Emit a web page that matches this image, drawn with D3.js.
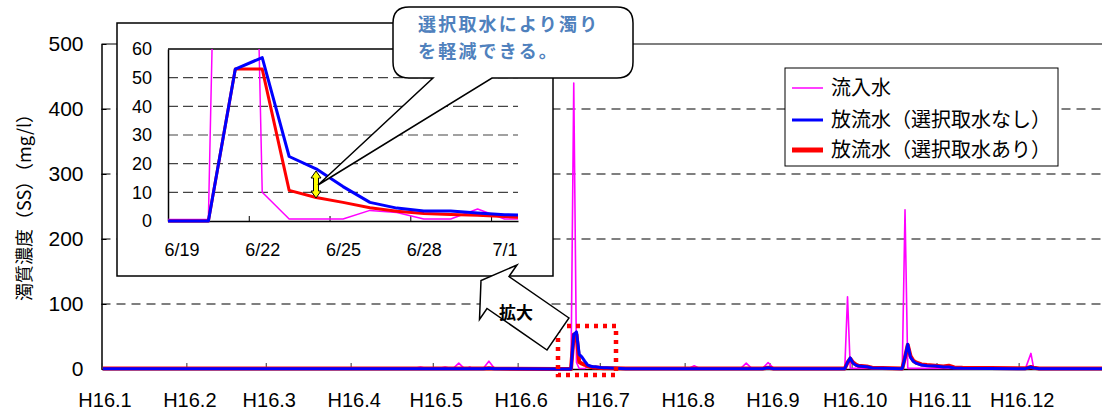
<!DOCTYPE html>
<html><head><meta charset="utf-8">
<script src="https://cdn.jsdelivr.net/npm/d3@7"></script>
<style>body{margin:0;background:#fff;} svg{display:block;}</style>
</head><body>
<svg id="c" width="1102" height="419"></svg>
<script>
// ---------- data ----------
const monthLabels = ["H16.1","H16.2","H16.3","H16.4","H16.5","H16.6","H16.7","H16.8","H16.9","H16.10","H16.11","H16.12"];
const mainYTicks = [0,100,200,300,400,500];
const insetYTicks = [0,10,20,30,40,50,60];
const insetTickLabels = ["6/19","6/22","6/25","6/28","7/1"];
const insetTickDates = ["2004-06-19","2004-06-22","2004-06-25","2004-06-28","2004-07-01"];
const seriesNames = ["流入水","放流水（選択取水なし）","放流水（選択取水あり）"];
const seriesColors = ["#ff00ff","#0000ff","#ff0000"];

const mainDates = [
 "2004-01-01","2004-04-24","2004-04-26","2004-04-28","2004-05-03","2004-05-05","2004-05-07","2004-05-08",
 "2004-05-10","2004-05-12","2004-05-13","2004-05-14","2004-05-15","2004-05-19","2004-05-21","2004-05-23",
 "2004-06-16","2004-06-17","2004-06-18","2004-06-19","2004-06-20","2004-06-21","2004-06-22","2004-06-23",
 "2004-06-24","2004-06-25","2004-06-26","2004-06-27","2004-06-28","2004-06-29","2004-06-30","2004-07-01",
 "2004-07-02","2004-07-03","2004-07-06","2004-07-10","2004-08-02","2004-08-04","2004-08-06","2004-08-21",
 "2004-08-23","2004-08-25","2004-08-29","2004-08-31","2004-09-02","2004-09-28","2004-09-29","2004-09-30",
 "2004-10-01","2004-10-02","2004-10-03","2004-10-06","2004-10-08","2004-10-19","2004-10-20","2004-10-21",
 "2004-10-22","2004-10-23","2004-10-24","2004-10-26","2004-10-28","2004-10-31","2004-11-03","2004-11-05",
 "2004-11-07","2004-11-10","2004-12-03","2004-12-05","2004-12-06","2004-12-08","2004-12-31"];
const inflow = [
 1,1,3,1,1,3,1,1,
 9,1,1,3,1,1,12,1,
 0.5,0.5,0.5,0.5,0.5,440,10,0.7,
 0.7,0.7,3.7,3,0.7,0.7,4.2,0.7,
 0.7,0.7,1,1,1,5,1,1,
 9,1,1,10,1,1,111,1,
 1,1,1,1,1,1,245,1,
 1,1,1,1,1,1,1,1,
 1,1,1,24,1,1,1];
const outflowNoSel = [
 0.5,0.5,0.5,0.5,0.5,0.5,0.5,0.5,
 0.5,0.5,0.5,0.5,0.5,0.5,1,0.5,
 0,0,0,0,0,53,57,22.5,
 18.2,12,6.5,4.5,3.5,3.5,2.8,2.2,
 2.0,1.8,1.2,0.5,0.5,0.5,0.5,0.5,
 0.5,0.5,0.5,2,0.5,0.5,10,17,
 9,6,4.5,3.5,1.5,0.5,18,38,
 18,12,9,6,5,4.5,3,3,
 1.5,1,0.5,3,1.5,0.5,0.5];
const outflowSel = [
 0.7,0.7,0.7,0.7,0.7,0.7,0.7,0.7,
 0.7,0.7,0.7,0.7,0.7,0.7,1,0.7,
 0,0,0,0,0,53,53,10.7,
 8.2,6.5,4.6,3.4,2.6,2.3,2.0,1.6,
 1.0,1.2,1.0,0.7,0.7,0.7,0.7,0.7,
 0.7,0.7,0.7,2,0.7,0.7,10,16,
 10,7,5,4,2,0.7,18,37,
 20,13,10,7,6,5,4,5,
 2.5,2,1,3,2,0.7,0.7];

// ---------- helpers ----------
const parse = d3.timeParse("%Y-%m-%d");
const noon = s => d3.timeHour.offset(parse(s), 12);
const dates = mainDates.map(noon);
const seriesValues = [inflow, outflowNoSel, outflowSel];
const drawOrder = [0, 2, 1]; // magenta, red, blue on top

const svg = d3.select("#c");
const numFont = "'Liberation Sans', Arial, sans-serif";
const jpFont = "'Noto Sans CJK JP', sans-serif";

// ---------- main chart ----------
const x = d3.scaleTime().domain([new Date(2004,0,1), new Date(2005,0,1)]).range([101.5, 1103.5]);
const y = d3.scaleLinear().domain([0,500]).range([369,44]);

svg.append("defs").append("clipPath").attr("id","mainClip")
  .append("rect").attr("x",101.5).attr("y",40).attr("width",1001).attr("height",340);

// gridlines
svg.append("g").selectAll("line").data(mainYTicks.filter(v=>v>0)).join("line")
  .attr("x1",101.5).attr("x2",1102).attr("y1",d=>y(d)).attr("y2",d=>y(d))
  .attr("stroke","#000").attr("stroke-width",1.2)
  .attr("stroke-dasharray",d=>d===500?null:"9,6");

// y axis
const gy = svg.append("g").attr("transform","translate(101.5,0)")
  .call(d3.axisLeft(y).tickValues(mainYTicks).tickSize(-5).tickSizeOuter(0).tickPadding(18));
gy.select(".domain").attr("stroke-width",1.5);
gy.selectAll("text").attr("font-family",numFont).attr("font-size",21).attr("fill","#000");

// x axis
const months = d3.timeMonth.range(new Date(2004,0,1), new Date(2005,0,1));
const gx = svg.append("g").attr("transform","translate(0,369)")
  .call(d3.axisBottom(x).tickValues(months).tickSize(-6).tickSizeOuter(0)
    .tickFormat((d,i)=>monthLabels[i]));
gx.select(".domain").attr("stroke-width",1.5);
gx.selectAll(".tick line").attr("stroke","#333");
gx.selectAll("text").attr("font-family",numFont).attr("font-size",20).attr("fill","#000")
  .attr("y",24).attr("dx",3);

// axis title
svg.append("text").attr("transform","translate(31,203) rotate(-90)")
  .attr("text-anchor","middle").attr("font-family",jpFont).attr("font-size",18).attr("fill","#000")
  .text("濁質濃度（SS）（mg/l）");

// series
const lineMain = vals => d3.line().x((d,i)=>x(dates[i])).y(d=>y(d))(vals);
const widthsMain = [1.6, 3, 4];
const gm = svg.append("g").attr("clip-path","url(#mainClip)");
drawOrder.forEach(k=>{
  gm.append("path").attr("d", lineMain(seriesValues[k])).attr("fill","none")
    .attr("stroke", seriesColors[k]).attr("stroke-width", widthsMain[k]).attr("stroke-linejoin","round");
});

// red dotted box
svg.append("rect").attr("x",558).attr("y",326).attr("width",58).attr("height",49)
  .attr("fill","none").attr("stroke","#ff0000").attr("stroke-width",4.5).attr("stroke-dasharray","4,5");

// ---------- inset ----------
const gi = svg.append("g");
gi.append("rect").attr("x",117).attr("y",23).attr("width",436).attr("height",253)
  .attr("fill","#fff").attr("stroke","#000").attr("stroke-width",1.5);

const ix = d3.scaleTime().domain([new Date(2004,5,19), new Date(2004,6,2)]).range([168,518]);
const iy = d3.scaleLinear().domain([0,60]).range([221,49]);

svg.select("defs").append("clipPath").attr("id","insetClip")
  .append("rect").attr("x",168).attr("y",49).attr("width",350).attr("height",177);

gi.append("g").selectAll("line").data(insetYTicks.filter(v=>v>0)).join("line")
  .attr("x1",168).attr("x2",518).attr("y1",d=>iy(d)).attr("y2",d=>iy(d))
  .attr("stroke",d=>d===60?"#000":"#444").attr("stroke-width",d=>d===60?1.5:1.2)
  .attr("stroke-dasharray",d=>d===60?null:"10,5");

const giy = gi.append("g").attr("transform","translate(168,0)")
  .call(d3.axisLeft(iy).tickValues(insetYTicks).tickSize(0).tickPadding(16));
giy.select(".domain").attr("stroke-width",1.5);
giy.selectAll("text").attr("font-family",numFont).attr("font-size",18).attr("fill","#000");

const boundaryDates = insetTickDates.slice(1).map(parse);
const gixt = gi.append("g").attr("transform","translate(0,221)")
  .call(d3.axisBottom(ix).tickValues(boundaryDates).tickSize(-5).tickSizeOuter(0).tickFormat(""));
gixt.select(".domain").attr("stroke-width",1.5);
const gixl = gi.append("g").attr("transform","translate(0,221)")
  .call(d3.axisBottom(ix).tickValues(insetTickDates.map(noon)).tickSize(0)
    .tickFormat((d,i)=>insetTickLabels[i]));
gixl.select(".domain").remove();
gixl.selectAll("text").attr("font-family",numFont).attr("font-size",18).attr("fill","#000").attr("y",22);

const lineInset = vals => d3.line().x((d,i)=>ix(dates[i])).y(d=>iy(d))(vals);
const widthsInset = [1.5, 3, 3];
const gil = gi.append("g").attr("clip-path","url(#insetClip)");
drawOrder.forEach(k=>{
  gil.append("path").attr("d", lineInset(seriesValues[k])).attr("fill","none")
    .attr("stroke", seriesColors[k]).attr("stroke-width", widthsInset[k]).attr("stroke-linejoin","round");
});

// yellow double arrow
gi.append("path")
  .attr("d","M316,171 L321,178 L318.5,178 L318.5,191 L321,191 L316,198 L311,191 L313.5,191 L313.5,178 L311,178 Z")
  .attr("fill","#ffff00").attr("stroke","#000").attr("stroke-width",1);

// ---------- 拡大 arrow ----------
svg.append("path")
  .attr("d","M569,318 L509,276.5 L517,265 L481,280.5 L479.5,319.5 L487,308.5 L547,350 Z")
  .attr("fill","#fff").attr("stroke","#000").attr("stroke-width",1.5).attr("stroke-linejoin","miter");
svg.append("text").attr("x",516).attr("y",319).attr("text-anchor","middle")
  .attr("font-family",jpFont).attr("font-weight","bold").attr("font-size",17).attr("fill","#000")
  .text("拡大");

// ---------- callout ----------
svg.append("path")
  .attr("d","M409,7 H617 Q633,7 633,23 V62 Q633,78 617,78 H492 L318,185 L433,78 H409 Q393,78 393,62 V23 Q393,7 409,7 Z")
  .attr("fill","#fff").attr("stroke","#000").attr("stroke-width",1.5);
const callLines = ["選択取水により濁り","を軽減できる。"];
svg.append("g").selectAll("text").data(callLines).join("text")
  .attr("x",418).attr("y",(d,i)=>31+i*26.5)
  .attr("font-family",jpFont).attr("font-weight","bold").attr("font-size",18)
  .attr("letter-spacing",2.2).attr("fill","#4f81bd").text(d=>d);

// ---------- legend ----------
const lg = svg.append("g");
lg.append("rect").attr("x",785).attr("y",68).attr("width",273).attr("height",98)
  .attr("fill","#fff").attr("stroke","#000").attr("stroke-width",1);
const legendY = [88,120,150];
const legendW = [1.5,3,5];
seriesNames.forEach((n,k)=>{
  lg.append("line").attr("x1",792).attr("x2",823).attr("y1",legendY[k]).attr("y2",legendY[k])
    .attr("stroke",seriesColors[k]).attr("stroke-width",legendW[k]);
  lg.append("text").attr("x",831).attr("y",legendY[k]+7)
    .attr("font-family",jpFont).attr("font-size",20).attr("fill","#000").text(n);
});
</script>
</body></html>
